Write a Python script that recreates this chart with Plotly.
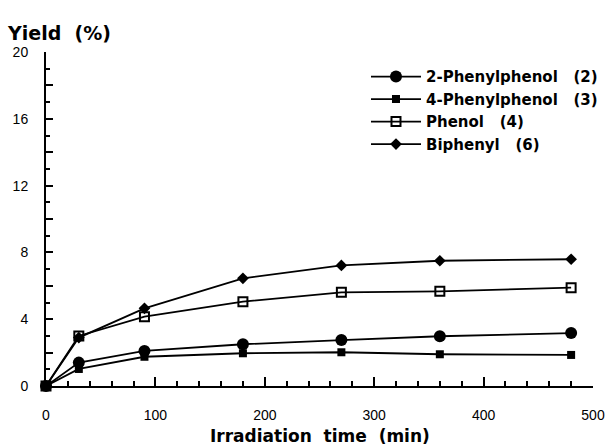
import plotly.graph_objects as go

time_min = [0, 30, 90, 180, 270, 360, 480]
phenylphenol_2 = [0, 1.40, 2.10, 2.50, 2.75, 2.98, 3.17]
phenylphenol_4 = [0, 1.02, 1.75, 1.96, 2.02, 1.90, 1.86]
phenol = [0, 3.00, 4.15, 5.05, 5.61, 5.67, 5.89]
biphenyl = [0, 2.90, 4.65, 6.45, 7.22, 7.50, 7.59]

series_names = ["2-Phenylphenol   (2)", "4-Phenylphenol   (3)", "Phenol   (4)", "Biphenyl   (6)"]
y_tickvals = list(range(0, 21, 2))
y_ticktext = [str(v) if v % 4 == 0 else "" for v in y_tickvals]
x_tickvals = [0, 100, 200, 300, 400, 500]

FONT = "Liberation Sans, Arial, sans-serif"
TFONT = "DejaVu Sans, sans-serif"

fig = go.Figure()
styles = [
    (phenylphenol_2, dict(symbol="circle", size=12, color="black")),
    (phenylphenol_4, dict(symbol="square", size=8, color="black")),
    (phenol, dict(symbol="square-open", size=9, color="black", line=dict(width=2, color="black"))),
    (biphenyl, dict(symbol="diamond", size=9, color="black")),
]
for name, (vals, mk) in zip(series_names, styles):
    fig.add_trace(go.Scatter(
        x=time_min, y=vals, name=name, mode="lines+markers",
        line=dict(color="black", width=1.8), marker=mk, cliponaxis=False,
    ))

fig.update_layout(
    width=608, height=446,
    margin=dict(l=46, r=15, t=52, b=60, autoexpand=False),
    plot_bgcolor="white", paper_bgcolor="white",
    font=dict(family=FONT, color="black", size=14),
    legend=dict(x=0.585, y=0.975, xanchor="left", yanchor="top",
                font=dict(size=15, family=TFONT, weight="bold"),
                bgcolor="rgba(0,0,0,0)", tracegroupgap=0, itemwidth=50),
    xaxis=dict(range=[0, 500], showgrid=False, zeroline=False,
               showline=True, linecolor="black", linewidth=2,
               tickvals=x_tickvals, ticks="inside", ticklen=9, tickwidth=2,
               tickcolor="black", tickfont=dict(size=14), ticklabelstandoff=15,
               minor=dict(dtick=20, ticks="inside", ticklen=5, tickwidth=2, tickcolor="black")),
    yaxis=dict(range=[0, 20], showgrid=False, zeroline=False,
               showline=True, linecolor="black", linewidth=2,
               tickvals=y_tickvals, ticktext=y_ticktext,
               ticks="inside", ticklen=7, tickwidth=2, tickcolor="black",
               tickfont=dict(size=14), ticklabelstandoff=13,
               minor=dict(dtick=1, ticks="inside", ticklen=4, tickwidth=2, tickcolor="black")),
    showlegend=True,
)
fig.add_annotation(text="<b>Yield  (%)</b>", xref="paper", yref="paper",
                   x=-0.075, y=1.018, xanchor="left", yanchor="bottom",
                   showarrow=False, font=dict(size=19, family=TFONT))
fig.add_annotation(text="<b>Irradiation  time  (min)</b>", xref="paper", yref="paper",
                   x=0.5, y=-0.15, xanchor="center", yanchor="middle",
                   showarrow=False, font=dict(size=17, family=TFONT))

fig.write_html("out.html", config={"displayModeBar": False},
               post_script="document.body.style.margin='0px';document.body.style.overflow='hidden';")
